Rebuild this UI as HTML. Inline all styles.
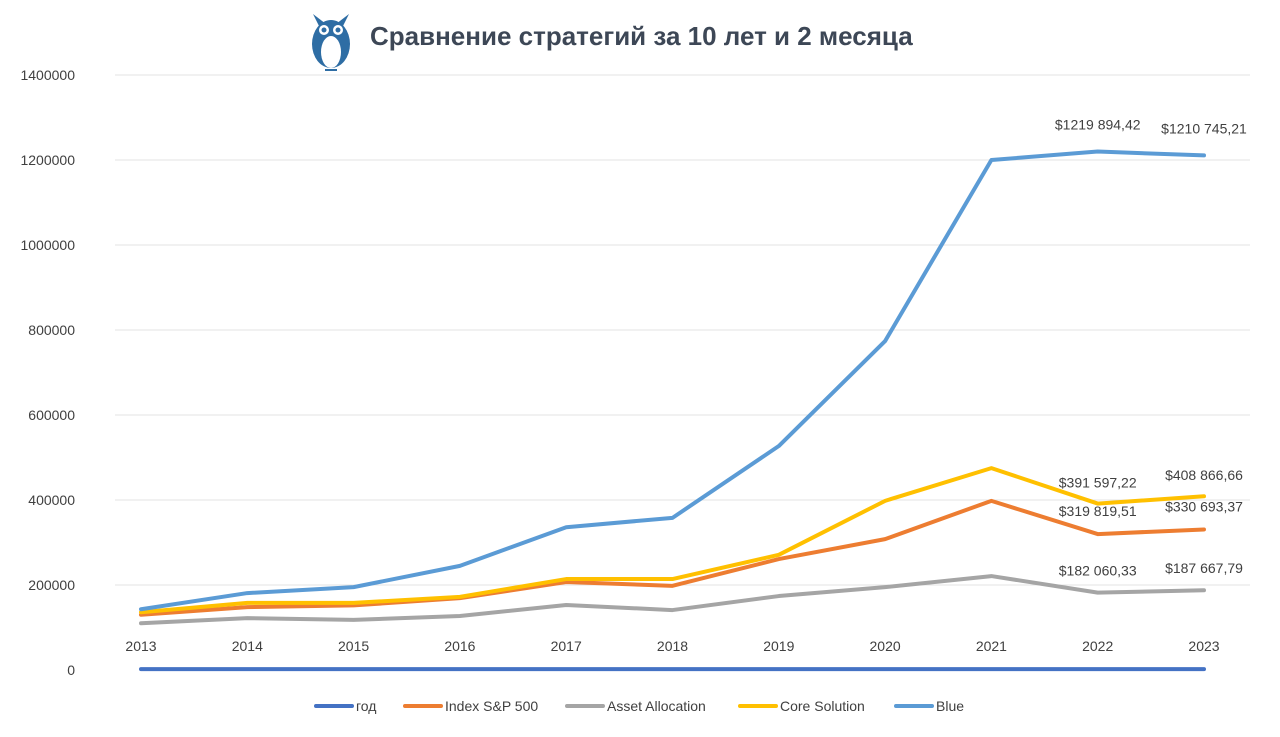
<!DOCTYPE html>
<html><head><meta charset="utf-8"><style>
html,body{margin:0;padding:0;background:#fff;}
svg{display:block;font-family:"Liberation Sans","DejaVu Sans",sans-serif;}
</style></head><body>
<svg id="chart" width="1280" height="737" viewBox="0 0 1280 737">
<rect width="1280" height="737" fill="#fff"/>
<g>
<ellipse cx="331" cy="44" rx="19" ry="24" fill="#2e6da4"/>
<ellipse cx="331" cy="52" rx="10" ry="16" fill="#fff"/>
<polygon points="313,14 320,28 326,24" fill="#2e6da4"/>
<polygon points="349,14 342,28 336,24" fill="#2e6da4"/>
<circle cx="324" cy="30" r="5" fill="#fff"/><circle cx="338" cy="30" r="5" fill="#fff"/>
<circle cx="324" cy="30" r="2.5" fill="#2e6da4"/><circle cx="338" cy="30" r="2.5" fill="#2e6da4"/>
<line x1="325" y1="70" x2="337" y2="70" stroke="#2e6da4" stroke-width="2"/>
</g>
<text x="370" y="45" font-size="26" font-weight="bold" fill="#3d4756">Сравнение стратегий за 10 лет и 2 месяца</text>
<g id="grid"></g><g id="yticks"></g><g id="xticks"></g><g id="series"></g><g id="labels"></g><g id="legend"></g>
</svg>
<script>
const years=['2013','2014','2015','2016','2017','2018','2019','2020','2021','2022','2023'];
const yTicks=[0,200000,400000,600000,800000,1000000,1200000,1400000];
const god=[2013,2014,2015,2016,2017,2018,2019,2020,2021,2022,2023];
const sp500=[130000,148000,152000,169000,207000,198000,261000,308000,398000,319819.51,330693.37];
const asset=[110000,122000,118000,127000,153000,141000,174000,195000,221000,182060.33,187667.79];
const core=[136000,158000,158000,172000,214000,214000,271000,398000,475000,391597.22,408866.66];
const blue=[143000,181000,195000,245000,336000,358000,527000,774000,1200000,1219894.42,1210745.21];
const seriesNames=['год','Index S&P 500','Asset Allocation','Core Solution','Blue'];
const NS='http://www.w3.org/2000/svg';
const X=i=>141+i*(1204-141)/(years.length-1);
const Y=v=>670-v/1400000*595;
function mk(t,a,p){const e=document.createElementNS(NS,t);for(const k in a)e.setAttribute(k,a[k]);document.getElementById(p).appendChild(e);return e;}
yTicks.forEach(v=>{
 if(v>0){const g=mk('line',{x1:115,x2:1250,y1:Y(v),y2:Y(v),stroke:'#e3e3e3','stroke-width':1},'grid');
 
 }
 const t=mk('text',{x:75,y:Y(v)+5,'text-anchor':'end','font-size':14,fill:'#404040'},'yticks');t.textContent=String(v);
 
 
});
years.forEach((y,i)=>{const t=mk('text',{x:X(i),y:651,'text-anchor':'middle','font-size':14,fill:'#404040'},'xticks');t.textContent=y;
 
 });
const data=[god,sp500,asset,core,blue];
const colors=['#4472c4','#ed7d31','#a5a5a5','#ffc000','#5b9bd5'];
const keys=['god','sp500','asset-allocation','core-solution','blue'];
data.forEach((d,s)=>{
 const p=mk('polyline',{points:d.map((v,i)=>X(i)+','+Y(v)).join(' '),fill:'none',stroke:colors[s],'stroke-width':4,'stroke-linejoin':'round','stroke-linecap':'round'},'series');
 
 
});
function fmt(v){const [a,b]=v.toFixed(2).split('.');const w=a.length>6?a.slice(0,a.length-6)+a.slice(a.length-6,a.length-3)+' '+a.slice(-3):a.replace(/\B(?=(\d{3})+$)/g,' ');return '$'+w+','+b;}
[[blue,-22],[core,-16],[sp500,-18],[asset,-17]].forEach(([d,o])=>{
 [9,10].forEach(i=>{const t=mk('text',{x:X(i),y:Y(d[i])+o,'text-anchor':'middle','font-size':14,fill:'#404040'},'labels');t.textContent=fmt(d[i]);
 
 });
});
const lx=[316,405,567,740,896];
seriesNames.forEach((n,s)=>{
 const l=mk('line',{x1:lx[s],x2:lx[s]+36,y1:706,y2:706,stroke:colors[s],'stroke-width':4,'stroke-linecap':'round'},'legend');
 
 
 const t=mk('text',{x:lx[s]+40,y:711,'font-size':14,fill:'#404040'},'legend');t.textContent=n;
 
 
});
</script>
</body></html>
